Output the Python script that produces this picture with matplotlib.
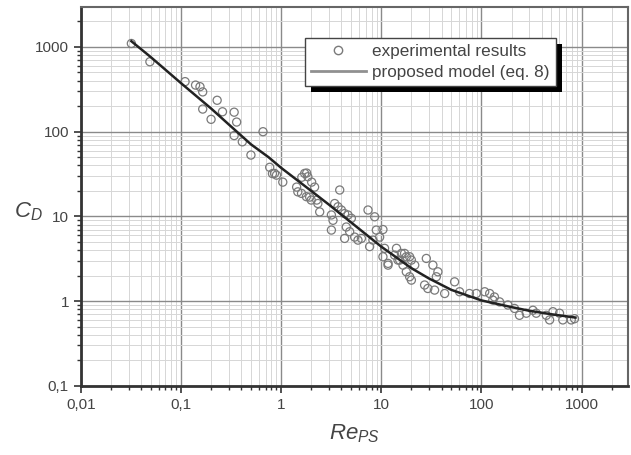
import numpy as np
import matplotlib
matplotlib.use("Agg")
import matplotlib.pyplot as plt
from matplotlib.ticker import FuncFormatter, NullFormatter, LogLocator
from matplotlib.lines import Line2D
from matplotlib.patches import Rectangle

plt.rcParams['font.family'] = ['Liberation Sans', 'DejaVu Sans']
plt.rcParams['mathtext.fontset'] = 'custom'
plt.rcParams['mathtext.it'] = 'Liberation Sans:italic'
plt.rcParams['mathtext.rm'] = 'Liberation Sans'

re_exp = [0.032, 0.049, 0.11, 0.14, 0.155, 0.165, 0.23, 0.165, 0.2, 0.26,
          0.34, 0.36, 0.66, 0.34, 0.41, 0.5, 0.77, 0.82, 0.9, 1.04,
          1.43, 1.61, 1.8, 2.02, 2.16, 1.93, 2.27, 0.86, 1.72, 1.85,
          1.47, 1.6, 1.79, 2.0, 2.33, 2.43, 3.85, 3.43, 3.7, 4.0,
          4.31, 4.66, 5.03, 3.18, 3.3, 3.18, 4.48, 4.84, 4.31, 5.43,
          5.86, 6.34, 7.38, 8.6, 8.93, 10.4, 9.64, 8.26, 7.66, 10.8,
          14.2, 15.9, 17.8, 20.0, 21.6, 11.7, 14.7, 16.5, 10.4, 11.7,
          17.1, 19.2, 13.6, 15.3, 17.8, 20.0, 19.2, 28.2, 32.8, 36.8,
          35.5, 27.1, 29.2, 34.1, 43.0, 54.0, 60.6, 76.0, 89.0, 108,
          121, 135, 130, 152, 184, 214, 240, 281, 327, 353,
          445, 480, 518, 603, 650, 789, 851]
cd_exp = [1100, 670, 390, 355, 340, 295, 235, 185, 140, 172,
          170, 130, 100, 90, 76, 53, 38, 32, 30.7, 25.4,
          22.2, 29, 32.5, 25.4, 22.2, 16.9, 15.6, 32.2, 32.2, 29.4,
          19.5, 18.7, 17.1, 15.6, 14.2, 11.3, 20.5, 14.2, 13.0, 11.9,
          10.8, 10.4, 9.5, 10.4, 9.0, 6.9, 7.5, 6.6, 5.5, 5.7,
          5.25, 5.5, 11.9, 9.9, 6.9, 7.0, 5.7, 5.25, 4.4, 4.2,
          4.2, 3.66, 3.34, 3.05, 2.66, 2.66, 3.05, 2.66, 3.34, 2.79,
          3.66, 3.34, 3.49, 3.05, 2.22, 1.77, 1.94, 3.19, 2.66, 2.22,
          1.94, 1.55, 1.41, 1.35, 1.23, 1.69, 1.29, 1.23, 1.23, 1.29,
          1.23, 1.12, 1.03, 0.98, 0.90, 0.82, 0.68, 0.72, 0.78, 0.72,
          0.68, 0.60, 0.75, 0.72, 0.60, 0.60, 0.62]

# proposed model (eq. 8)
re_model = [0.032, 0.05, 0.1, 0.2, 0.3, 0.5, 0.75, 1, 2, 3, 5, 10,
            20, 30, 50, 100, 200, 300, 500, 870]
cd_model = [1170, 760, 375, 188, 122, 71, 50, 37.5, 20, 13.8, 8.5, 4.4,
            2.45, 1.85, 1.36, 1.02, 0.85, 0.77, 0.70, 0.64]

x_ticks = [0.01, 0.1, 1, 10, 100, 1000]
y_ticks = [0.1, 1, 10, 100, 1000]


def comma_fmt(v, pos):
    return ('%g' % v).replace('.', ',')


fig = plt.figure(figsize=(6.31, 4.55), dpi=100)
ax = fig.add_axes([0.128, 0.152, 0.867, 0.833])

ax.set_xscale('log')
ax.set_yscale('log')
ax.set_xlim(0.01, 2900)
ax.set_ylim(0.1, 2980)

ax.grid(True, which='major', color='#8a8a8a', lw=1.0)
ax.grid(True, which='minor', color='#d6d6d6', lw=0.7)
ax.set_axisbelow(True)

ax.scatter(re_exp, cd_exp, s=34, facecolors='none', edgecolors='#7a7a7a',
           linewidths=0.9, zorder=3)
ax.plot(re_model, cd_model, color='#222222', lw=1.8, zorder=4)

ax.set_xticks(x_ticks)
ax.set_yticks(y_ticks)
ax.xaxis.set_minor_locator(LogLocator(base=10, subs=np.arange(2, 10), numticks=20))
ax.yaxis.set_minor_locator(LogLocator(base=10, subs=np.arange(2, 10), numticks=20))
ax.xaxis.set_major_formatter(FuncFormatter(comma_fmt))
ax.yaxis.set_major_formatter(FuncFormatter(comma_fmt))
ax.xaxis.set_minor_formatter(NullFormatter())
ax.yaxis.set_minor_formatter(NullFormatter())

ax.tick_params(which='major', direction='out', length=5, width=1.2,
               color='#333333', labelsize=11, labelcolor='#444444')
ax.tick_params(which='minor', direction='out', length=3, width=1.0,
               color='#333333')

for side in ['left', 'bottom']:
    ax.spines[side].set_linewidth(2.0)
    ax.spines[side].set_color('#333333')
for side in ['top', 'right']:
    ax.spines[side].set_linewidth(1.5)
    ax.spines[side].set_color('#666666')

ax.set_xlabel(r'$Re_{PS}$', fontsize=16, color='#444444', labelpad=8)
ax.set_ylabel(r'$C_D$', fontsize=16, color='#444444', rotation=0)
ax.yaxis.set_label_coords(-0.095, 0.43)

handles = [Line2D([], [], ls='none', marker='o', mfc='none', mec='#7a7a7a', ms=6),
           Line2D([], [], color='#909090', lw=2.0)]
leg = ax.legend(handles, ['experimental results', 'proposed model (eq. 8)'],
                loc='upper left', bbox_to_anchor=(305 / 631, 1 - 38 / 455),
                bbox_transform=fig.transFigure,
                frameon=True, fancybox=False, edgecolor='#444444',
                framealpha=1, fontsize=12.3, handlelength=3.2,
                borderpad=0.35, borderaxespad=0, labelspacing=0.35,
                handletextpad=0.4)
leg.get_frame().set_linewidth(1.0)
leg.set_zorder(10)
for t in leg.get_texts():
    t.set_color('#444444')

# black drop shadow behind the legend box
fig.canvas.draw()
bb = leg.get_window_extent().transformed(fig.transFigure.inverted())
dx, dy = 6 / 631, 6 / 455
shadow = Rectangle((bb.x0 + dx, bb.y0 - dy), bb.width, bb.height,
                   transform=fig.transFigure, facecolor='black',
                   edgecolor='none', zorder=9)
ax.add_artist(shadow)
shadow.set_clip_on(False)

fig.savefig('out.png', dpi=100)
